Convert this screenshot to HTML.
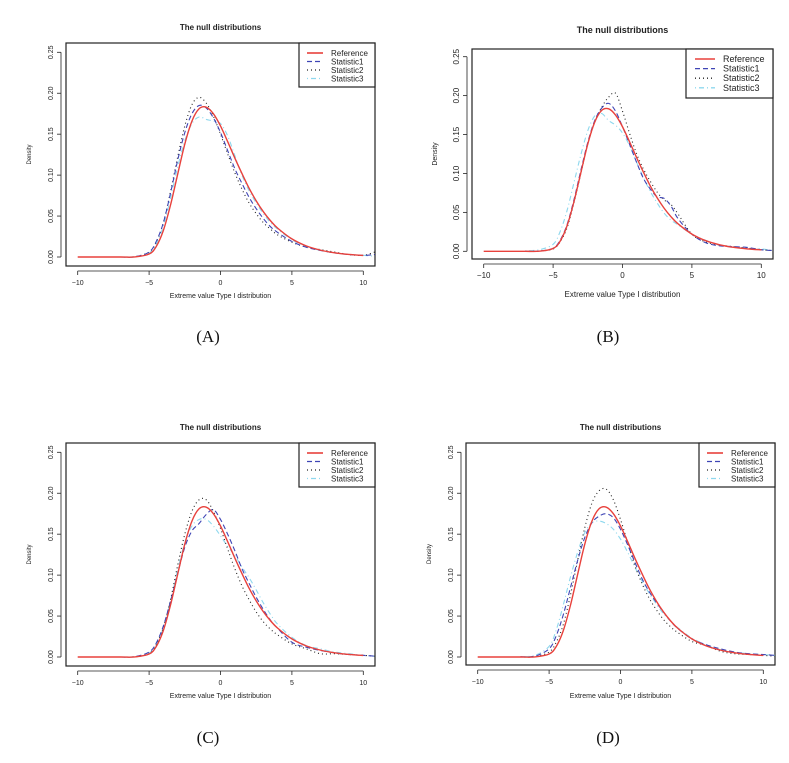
<!DOCTYPE html>
<html><head><meta charset="utf-8"><style>
body{margin:0;background:#fff;}
svg{display:block;}
text{font-family:"Liberation Sans",sans-serif;fill:#222;}
.cap{font-family:"Liberation Serif",serif;font-size:17px;fill:#111;}
</style></head><body>
<svg id="chart" width="789" height="763" viewBox="0 0 789 763">
<text class="cap" x="208" y="342" text-anchor="middle">(A)</text>
<text class="cap" x="608" y="342" text-anchor="middle">(B)</text>
<text class="cap" x="208" y="743" text-anchor="middle">(C)</text>
<text class="cap" x="608" y="743" text-anchor="middle">(D)</text>
</svg>
<script>
const xGrid=[-10,-8,-7,-6,-5,-4.5,-4,-3.5,-3,-2.5,-2,-1.5,-1,-0.5,0,0.5,1,1.5,2,2.5,3,3.5,4,5,6,7,8,9,10,10.8];
const refVals=[0,0,0,0.0001,0.0036,0.0128,0.0325,0.0635,0.101,0.138,0.166,0.181,0.183,0.175,0.160,0.141,0.121,0.102,0.084,0.0686,0.0553,0.0443,0.0353,0.0221,0.0136,0.0084,0.0051,0.0031,0.0019,null];
const aS1=[null,null,0,0.0003,0.006,0.019,0.042,0.078,0.118,0.152,0.175,0.185,0.182,0.170,0.152,0.130,0.108,0.090,0.073,0.059,0.047,0.037,0.030,0.019,0.012,0.008,0.005,0.003,0.002,0.003];
const aS2=[null,null,0,0.0003,0.006,0.018,0.042,0.080,0.122,0.160,0.186,0.195,0.188,0.172,0.150,0.126,0.103,0.083,0.066,0.053,0.042,0.034,0.027,0.018,0.012,0.009,0.006,0.003,0.002,0.006];
const aS3=[null,null,0,0.0003,0.005,0.016,0.038,0.072,0.110,0.142,0.163,0.171,0.168,0.166,0.163,0.148,0.124,0.100,0.081,0.066,0.053,0.042,0.034,0.021,0.013,0.008,0.005,0.003,0.002,0.001];
const bS1=[null,null,0,0.0003,0.004,0.014,0.034,0.066,0.104,0.140,0.168,0.184,0.190,0.180,0.160,0.138,0.115,0.094,0.080,0.070,0.068,0.058,0.042,0.022,0.011,0.007,0.006,0.005,0.002,0.001];
const bS2=[null,null,0,0.0002,0.003,0.012,0.030,0.062,0.100,0.138,0.166,0.185,0.198,0.203,0.180,0.152,0.126,0.106,0.090,0.076,0.066,0.060,0.048,0.022,0.012,0.008,0.006,0.004,0.002,0.001];
const bS3=[null,null,0.0005,0.002,0.009,0.025,0.052,0.088,0.124,0.155,0.174,0.177,0.168,0.162,0.152,0.136,0.115,0.095,0.077,0.062,0.049,0.040,0.034,0.022,0.014,0.008,0.005,0.004,0.003,0.001];
const cS1=[null,null,0,0.0005,0.006,0.017,0.038,0.068,0.102,0.134,0.154,0.163,0.174,0.180,0.168,0.150,0.130,0.108,0.090,0.073,0.058,0.045,0.035,0.018,0.012,0.008,0.005,0.003,0.002,0.001];
const cS2=[null,null,0,0.0002,0.004,0.015,0.036,0.070,0.112,0.150,0.178,0.192,0.192,0.178,0.157,0.132,0.108,0.087,0.070,0.055,0.043,0.034,0.027,0.016,0.010,0.004,0.004,0.003,0.002,0.001];
const cS3=[null,null,0,0.0003,0.005,0.015,0.036,0.068,0.106,0.140,0.160,0.168,0.168,0.160,0.148,0.135,0.124,0.110,0.097,0.082,0.066,0.052,0.040,0.024,0.014,0.010,0.006,0.004,0.002,0.001];
const dS1=[null,null,0.0003,0.001,0.010,0.026,0.052,0.085,0.118,0.146,0.164,0.172,0.175,0.170,0.156,0.137,0.116,0.096,0.080,0.067,0.055,0.044,0.035,0.022,0.015,0.010,0.006,0.004,0.003,0.002];
const dS2=[null,null,0,0.0003,0.006,0.018,0.040,0.076,0.118,0.158,0.188,0.203,0.205,0.192,0.168,0.140,0.112,0.090,0.072,0.058,0.046,0.037,0.030,0.019,0.014,0.007,0.004,0.003,0.002,0.001];
const dS3=[null,null,0.0005,0.002,0.013,0.033,0.064,0.098,0.128,0.152,0.164,0.166,0.163,0.156,0.144,0.128,0.110,0.093,0.078,0.065,0.053,0.044,0.036,0.023,0.015,0.009,0.006,0.004,0.003,0.002];
const xTicks=[-10,-5,0,5,10];
const xTickLabels=["\u221210","\u22125","0","5","10"];
const yTicks=[0,0.05,0.10,0.15,0.20,0.25];
const yTickLabels=["0.00","0.05","0.10","0.15","0.20","0.25"];
const seriesNames=["Reference","Statistic1","Statistic2","Statistic3"];

const NS="http://www.w3.org/2000/svg";
const svg=document.getElementById('chart');
const styles=[
 {stroke:"#e8413c",w:1.4,dash:""},
 {stroke:"#3f45b5",w:1.1,dash:"5,3"},
 {stroke:"#222",w:1.1,dash:"1,3"},
 {stroke:"#8ed8ee",w:1.1,dash:"1,3,5,3"}
];
function mk(tag,attrs,parent){const e=document.createElementNS(NS,tag);for(const k in attrs)e.setAttribute(k,attrs[k]);(parent||svg).appendChild(e);return e;}
function pathFrom(pts){
  if(pts.length<2)return "";
  let d="M"+pts[0][0].toFixed(2)+","+pts[0][1].toFixed(2);
  for(let i=0;i<pts.length-1;i++){
    const p0=pts[Math.max(0,i-1)],p1=pts[i],p2=pts[i+1],p3=pts[Math.min(pts.length-1,i+2)];
    const c1x=p1[0]+(p2[0]-p0[0])/6,c1y=p1[1]+(p2[1]-p0[1])/6;
    const c2x=p2[0]-(p3[0]-p1[0])/6,c2y=p2[1]-(p3[1]-p1[1])/6;
    d+=" C"+c1x.toFixed(2)+","+c1y.toFixed(2)+" "+c2x.toFixed(2)+","+c2y.toFixed(2)+" "+p2[0].toFixed(2)+","+p2[1].toFixed(2);
  }
  return d;
}
function panel(id,g,series){
  const grp=mk('g',{});
  
  
  const sx=v=>g.x0+(v+10)/20*(g.x10-g.x0);
  const sy=v=>g.y0-v/0.25*(g.y0-g.y25);
  const box=mk('rect',{x:g.bl,y:g.bt,width:g.br-g.bl,height:g.bb-g.bt,fill:"none",stroke:"#222","stroke-width":1.2},grp);
  
  
  const t=mk('text',{x:(g.bl+g.br)/2,y:g.ty,"text-anchor":"middle","font-size":g.tf,"font-weight":"bold"},grp);
  t.textContent="The null distributions";
  
  
  // x axis
  mk('line',{x1:sx(-10),x2:sx(10),y1:g.bb+5,y2:g.bb+5,stroke:"#222","stroke-width":0.8},grp);
  xTicks.forEach((v,i)=>{
    mk('line',{x1:sx(v),x2:sx(v),y1:g.bb+5,y2:g.bb+9,stroke:"#222","stroke-width":0.8},grp);
    const tl=mk('text',{x:sx(v),y:g.bb+19,"text-anchor":"middle","font-size":g.fs},grp);
    tl.textContent=xTickLabels[i];
    
    
  });
  const xl=mk('text',{x:(g.bl+g.br)/2,y:g.xly,"text-anchor":"middle","font-size":g.fs},grp);
  xl.textContent="Extreme value Type I distribution";
  
  
  // y axis
  mk('line',{x1:g.bl-5,x2:g.bl-5,y1:sy(0),y2:sy(0.25),stroke:"#222","stroke-width":0.8},grp);
  yTicks.forEach((v,i)=>{
    mk('line',{x1:g.bl-9,x2:g.bl-5,y1:sy(v),y2:sy(v),stroke:"#222","stroke-width":0.8},grp);
    const yy=sy(v), xx=g.bl-13;
    const tl=mk('text',{x:xx,y:yy,"text-anchor":"middle","font-size":g.fs,transform:"rotate(-90 "+xx+" "+yy+")"},grp);
    tl.textContent=yTickLabels[i];
    
    
  });
  const yx=g.bl-35, yy=(g.bt+g.bb)/2;
  const yl=mk('text',{x:yx,y:yy,"text-anchor":"middle","font-size":g.fs-1,transform:"rotate(-90 "+yx+" "+yy+")"},grp);
  yl.textContent="Density";
  
  
  // series
  const clip=mk('clipPath',{id:'clip'+id},grp);
  mk('rect',{x:g.bl,y:g.bt,width:g.br-g.bl,height:g.bb-g.bt},clip);
  [3,2,1,0].forEach(si=>{
    const vals=series[si];
    const pts=[];
    vals.forEach((v,i)=>{if(v!==null)pts.push([sx(xGrid[i]),sy(v)]);});
    const p=mk('path',{d:pathFrom(pts),fill:"none",stroke:styles[si].stroke,"stroke-width":styles[si].w,"stroke-dasharray":styles[si].dash,"clip-path":"url(#clip"+id+")"},grp);
    
    
  });
  // legend
  const lg=mk('g',{},grp);
  
  
  mk('rect',{x:g.lx,y:g.bt,width:g.br-g.lx,height:g.lh,fill:"#fff",stroke:"#222","stroke-width":1.2},lg);
  seriesNames.forEach((n,i)=>{
    const y=g.bt+g.ly0+i*g.lstep;
    mk('line',{x1:g.lx+g.l1,x2:g.lx+g.l2,y1:y,y2:y,stroke:styles[i].stroke,"stroke-width":styles[i].w+0.2,"stroke-dasharray":styles[i].dash},lg);
    const tt=mk('text',{x:g.lx+g.lt,y:y+3,"font-size":g.lf},lg);
    tt.textContent=n;
    
    
  });
}
const gA={bl:66,br:375,bt:43,bb:266,x0:77.7,x10:363.3,y0:257,y25:52.3,ty:30,tf:8,fs:7,xly:298,lx:299,lh:44,ly0:10,lstep:8.5,l1:8,l2:24,lt:32,lf:8};
const gB={bl:472,br:773,bt:49,bb:259,x0:483.7,x10:761.3,y0:251.3,y25:56.7,ty:33,tf:9,fs:8,xly:297,lx:686,lh:49,ly0:10,lstep:9.6,l1:9,l2:29,lt:37,lf:9};
panel('a',gA,[refVals,aS1,aS2,aS3]);
panel('b',gB,[refVals,bS1,bS2,bS3]);
panel('c',Object.assign({},gA,{bt:443,bb:666,y0:657,y25:452.3,ty:430,xly:698}),[refVals,cS1,cS2,cS3]);
panel('d',Object.assign({},gA,{bl:466,br:775,bt:443,bb:665,x0:477.7,x10:763.3,y0:657,y25:452.3,ty:430,xly:698,lx:699}),[refVals,dS1,dS2,dS3]);
</script>
</body></html>
